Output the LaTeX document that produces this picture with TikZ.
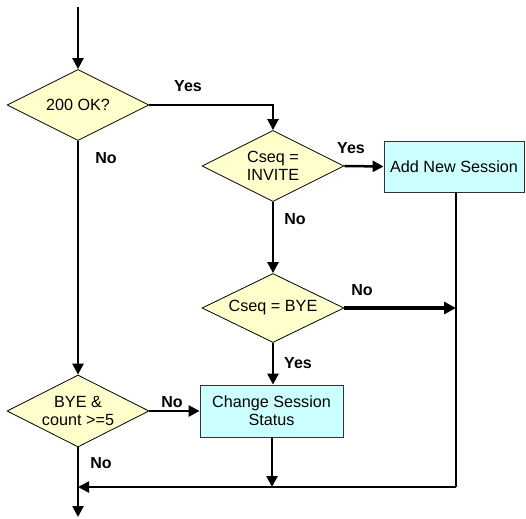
\documentclass[tikz,border=0pt]{standalone}
\usepackage{fontspec}
\setmainfont{Liberation Sans}
\usetikzlibrary{shapes.geometric,arrows.meta}
\definecolor{decfill}{HTML}{FFFFCC}
\definecolor{boxfill}{HTML}{CCFFFF}
\begin{document}
\begin{tikzpicture}[x=1pt,y=-1pt,
  every node/.style={font=\fontsize{16.2}{18}\selectfont},
  decision/.style={diamond,aspect=2,draw=black,line width=0.8pt,fill=decfill,inner sep=0pt,
    minimum width=142pt,minimum height=71pt,align=center},
  process/.style={rectangle,draw=black!80,line width=0.8pt,fill=boxfill,inner sep=0pt,align=center},
  lbl/.style={font=\fontsize{16}{18}\selectfont\bfseries},
  flow/.style={line width=2.5pt,-{Triangle[length=11pt,width=11pt]}},
  plain/.style={line width=2.5pt},
  heavy/.style={line width=4pt,-{Triangle[length=12pt,width=12pt]}}]
\useasboundingbox (0,0) rectangle (526,518);
\coordinate (start) at (78,7);
\coordinate (finish) at (78,517);
\node[decision] (d1) at (78,105) {200 OK?};
\node[decision] (d2) at (273,166) {Cseq =\\INVITE};
\node[process,minimum width=140pt,minimum height=51pt] (b1) at (454,166.5) {Add New Session};
\node[decision,minimum height=69pt] (d3) at (273,308) {Cseq = BYE};
\node[process,minimum width=143pt,minimum height=52pt] (b2) at (271.5,411) {Change Session\\Status};
\node[decision,minimum height=72pt] (d4) at (78,411) {BYE \&\\count >=5};
\coordinate (rj) at (456,308);
\coordinate (rb) at (456,487);
\coordinate (lb) at (78,487);
\coordinate (mb) at (272,487);

\draw[flow] (start) -- (d1.north);
\draw[flow] (d1.east) -| (d2.north);
\draw[flow] (d2.east) -- (b1.west);
\draw[flow] (d2.south) -- (d3.north);
\draw[heavy] (d3.east) -- (rj);
\draw[flow] (d3.south) -- (d3.south |- b2.north);
\draw[flow] (d1.south) -- (d4.north);
\draw[flow] (d4.east) -- (b2.west);
\draw[plain] (b1.south -| rb) -- (rb);
\draw[flow] (rb) -- (lb);
\draw[flow] (b2.south -| mb) -- (mb);
\draw[flow] (d4.south) -- (finish);

\node[lbl] (l1) at (188,86) {Yes};
\node[lbl] (l2) at (351,148) {Yes};
\node[lbl] (l3) at (295,219) {No};
\node[lbl] (l4) at (362,290) {No};
\node[lbl] (l5) at (298,363) {Yes};
\node[lbl] (l6) at (106,158) {No};
\node[lbl] (l7) at (172,402) {No};
\node[lbl] (l8) at (101,463) {No};
\end{tikzpicture}
\end{document}
